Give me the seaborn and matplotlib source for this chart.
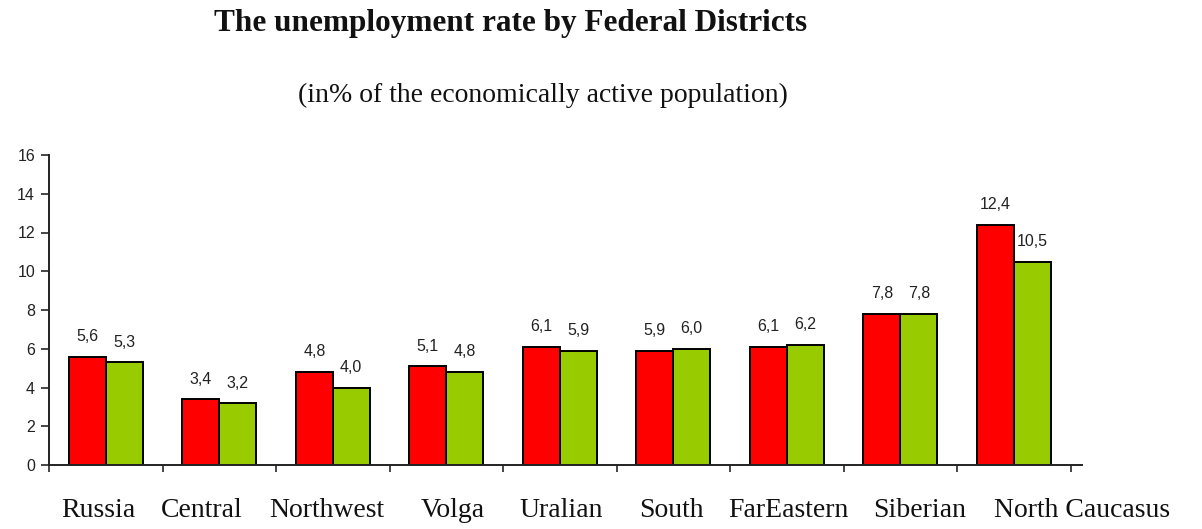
import matplotlib
matplotlib.use("Agg")
import matplotlib.pyplot as plt
import seaborn as sns
import pandas as pd

# ---- data ----
districts = ["Russia", "Central", "Northwest", "Volga", "Uralian",
             "South", "FarEastern", "Siberian", "North Caucasus"]
series_names = ["Period 1", "Period 2"]
rate_period1 = [5.6, 3.4, 4.8, 5.1, 6.1, 5.9, 6.1, 7.8, 12.4]
rate_period2 = [5.3, 3.2, 4.0, 4.8, 5.9, 6.0, 6.2, 7.8, 10.5]
y_ticks = [0, 2, 4, 6, 8, 10, 12, 14, 16]

title = "The unemployment rate by Federal Districts"
subtitle = "(in% of the economically active population)"

df = pd.DataFrame({
    "district": districts * 2,
    "period": [series_names[0]] * len(districts) + [series_names[1]] * len(districts),
    "rate": rate_period1 + rate_period2,
})

# ---- layout ----
W, H = 1202, 529
label_x = [-0.064, 0.842, 1.948, 3.055, 4.01, 4.98, 6.01, 7.17, 8.60]

sns.set_style("white")
plt.rcParams["font.family"] = ["Liberation Sans", "DejaVu Sans"]

fig = plt.figure(figsize=(W / 100, H / 100), dpi=100)
ax = fig.add_axes([49 / W, 1 - 465 / H, (1082 - 49) / W, (465 - 155) / H])

sns.barplot(data=df, x="district", y="rate", hue="period",
            palette=["#FF0000", "#99CC00"], width=0.65, gap=0,
            edgecolor="black", linewidth=1.4, legend=False, ax=ax,
            saturation=1, errorbar=None)

for cont in ax.containers:
    labels = [f"{b.get_height():.1f}".replace(".", ",") for b in cont]
    ax.bar_label(cont, labels=labels, padding=9, fontsize=11.5, color="#222222")

ax.set_xlim(-0.5, len(districts) - 0.5)
ax.set_ylim(0, 16)
ax.set_yticks(y_ticks)
ax.set_yticklabels([str(t) for t in y_ticks], fontsize=11.5, color="#222222")
ax.tick_params(axis="y", direction="out", length=6, width=1.2, pad=4, left=True)

# boundary ticks (major, no labels) and district labels (minor, no marks)
ax.set_xticks([i - 0.5 for i in range(len(districts) + 1)])
ax.set_xticklabels([""] * (len(districts) + 1))
ax.set_xticks(label_x, labels=districts, minor=True)
ax.tick_params(axis="x", which="major", direction="out", length=5, width=1.2, bottom=True)
ax.tick_params(axis="x", which="minor", length=0, pad=24)
for lbl in ax.get_xticklabels(minor=True):
    lbl.set_fontfamily(["Liberation Serif", "DejaVu Serif"])
    lbl.set_fontsize(20)
    lbl.set_color("#111111")

ax.set_xlabel("")
ax.set_ylabel("")
sns.despine(ax=ax, top=True, right=True)
for s in ["left", "bottom"]:
    ax.spines[s].set_color("#222222")
    ax.spines[s].set_linewidth(1.4)

fig.text(511 / W, 1 - 23 / H, title, ha="center", va="center",
         fontsize=22.5, fontweight="bold",
         family=["Liberation Serif", "DejaVu Serif"], color="#111111")
fig.text(543 / W, 1 - 95 / H, subtitle, ha="center", va="center",
         fontsize=20, family=["Liberation Serif", "DejaVu Serif"], color="#111111")

fig.savefig("out.png", dpi=100)
